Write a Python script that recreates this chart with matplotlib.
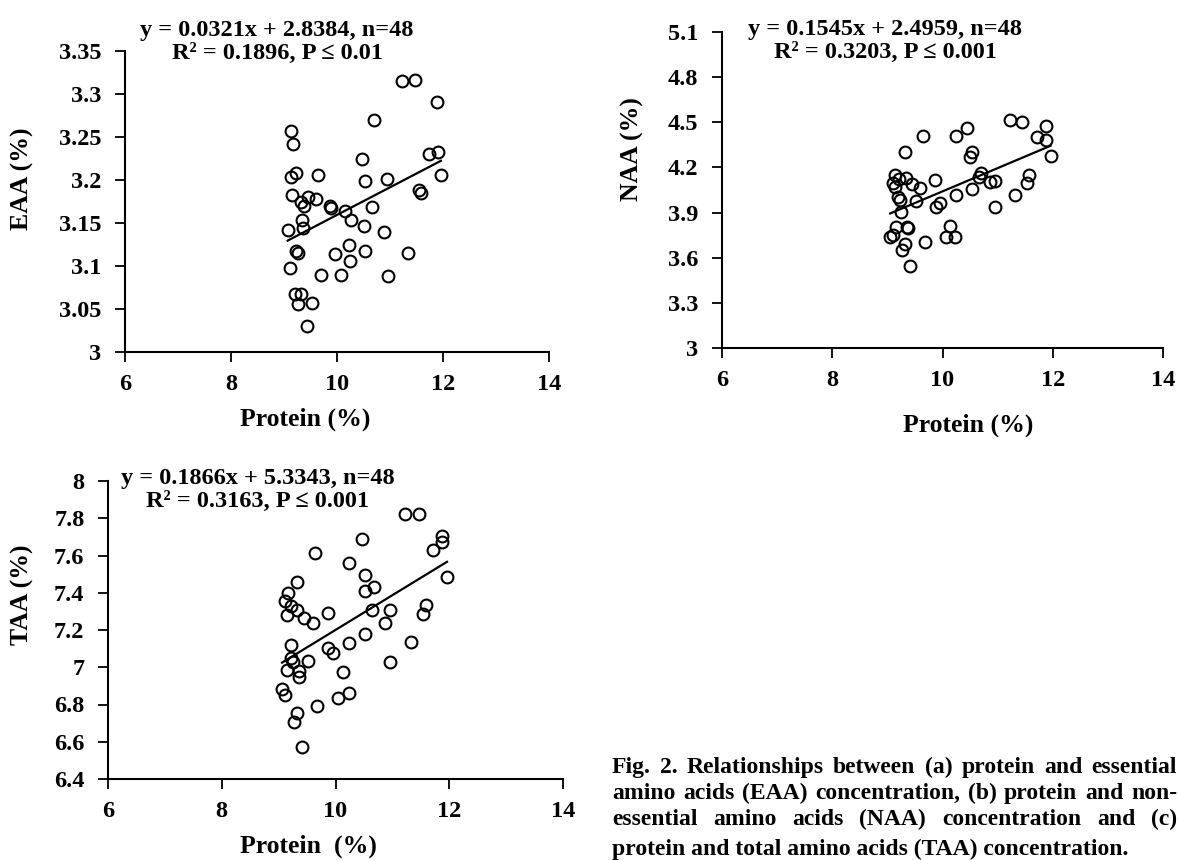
import matplotlib
matplotlib.use('Agg')
import matplotlib.pyplot as plt
import numpy as np

plt.rcParams['font.family'] = ['Liberation Serif', 'DejaVu Serif']
plt.rcParams['font.weight'] = 'bold'
plt.rcParams['axes.labelweight'] = 'bold'

# (a) protein vs essential amino acids
eaa_protein = [11.23, 11.47, 11.89, 10.70, 9.13, 9.17, 10.47, 11.73, 11.90, 9.22,
               9.14, 9.65, 10.53, 10.95, 11.96, 9.16, 9.46, 9.60, 9.32, 9.37,
               9.87, 9.88, 10.15, 10.66, 11.55, 11.58, 9.34, 10.26, 9.07, 9.36,
               10.51, 10.88, 9.22, 9.27, 10.23, 9.96, 10.53, 11.34, 10.25, 9.12,
               9.69, 10.07, 10.97, 9.20, 9.32, 9.27, 9.53, 9.43]
eaa_values = [3.315, 3.316, 3.291, 3.270, 3.257, 3.242, 3.224, 3.230, 3.232, 3.208,
              3.203, 3.206, 3.199, 3.201, 3.206, 3.183, 3.180, 3.178, 3.175, 3.170,
              3.170, 3.168, 3.164, 3.169, 3.188, 3.185, 3.154, 3.154, 3.142, 3.144,
              3.146, 3.140, 3.117, 3.115, 3.124, 3.114, 3.118, 3.115, 3.106, 3.098,
              3.090, 3.090, 3.088, 3.067, 3.068, 3.056, 3.057, 3.030]

# (b) protein vs non-essential amino acids
naa_protein = [11.22, 11.45, 11.88, 11.72, 11.88, 11.96, 9.65, 10.24, 10.45, 9.32,
               10.53, 10.50, 10.69, 10.66, 11.57, 11.54, 10.87, 10.95, 9.14, 9.21,
               9.33, 9.10, 9.14, 9.45, 9.60, 9.86, 10.24, 10.53, 11.32, 9.20,
               9.22, 9.52, 9.95, 9.88, 9.25, 10.95, 9.16, 9.36, 10.14, 9.10,
               9.05, 10.06, 10.23, 9.32, 9.27, 9.68, 9.41, 9.37]
naa_values = [4.512, 4.503, 4.474, 4.401, 4.379, 4.279, 4.410, 4.407, 4.463, 4.303,
              4.301, 4.267, 4.165, 4.139, 4.152, 4.094, 4.101, 4.108, 4.152, 4.125,
              4.130, 4.099, 4.068, 4.088, 4.061, 4.119, 4.017, 4.059, 4.017, 4.001,
              3.983, 3.977, 3.963, 3.937, 3.903, 3.939, 3.801, 3.804, 3.810, 3.753,
              3.737, 3.739, 3.739, 3.690, 3.650, 3.704, 3.542, 3.799]

# (c) protein vs total amino acids
taa_protein = [11.22, 11.46, 11.87, 11.87, 11.71, 10.46, 9.64, 10.24, 10.52, 10.68,
               10.51, 11.96, 9.33, 9.16, 9.11, 9.21, 9.33, 9.14, 9.45, 9.60,
               9.86, 10.65, 10.95, 11.59, 11.54, 10.87, 10.52, 10.24, 11.32, 9.22,
               9.86, 9.96, 9.22, 9.26, 9.52, 10.96, 9.15, 9.36, 9.35, 10.14,
               9.06, 9.12, 10.23, 10.04, 9.68, 9.32, 9.27, 9.41]
taa_values = [7.825, 7.825, 7.707, 7.671, 7.630, 7.687, 7.616, 7.562, 7.496, 7.433,
              7.412, 7.485, 7.458, 7.396, 7.356, 7.331, 7.305, 7.278, 7.267, 7.240,
              7.290, 7.308, 7.308, 7.335, 7.285, 7.237, 7.179, 7.128, 7.135, 7.119,
              7.103, 7.079, 7.051, 7.026, 7.033, 7.029, 6.985, 6.979, 6.949, 6.972,
              6.883, 6.850, 6.863, 6.834, 6.793, 6.756, 6.707, 6.573]

eaa_fit = (0.0321, 2.8384)
naa_fit = (0.1545, 2.4959)
taa_fit = (0.1866, 5.3343)

eaa_eq = 'y = 0.0321x + 2.8384, n=48\nR² = 0.1896, P ≤ 0.01'
naa_eq = 'y = 0.1545x + 2.4959, n=48\nR² = 0.3203, P ≤ 0.001'
taa_eq = 'y = 0.1866x + 5.3343, n=48\nR² = 0.3163, P ≤ 0.001'

x_ticks = [6, 8, 10, 12, 14]
eaa_ticks = [3, 3.05, 3.1, 3.15, 3.2, 3.25, 3.3, 3.35]
eaa_tick_labels = ['3', '3.05', '3.1', '3.15', '3.2', '3.25', '3.3', '3.35']
naa_ticks = [3, 3.3, 3.6, 3.9, 4.2, 4.5, 4.8, 5.1]
naa_tick_labels = ['3', '3.3', '3.6', '3.9', '4.2', '4.5', '4.8', '5.1']
taa_ticks = [6.4, 6.6, 6.8, 7.0, 7.2, 7.4, 7.6, 7.8, 8.0]
taa_tick_labels = ['6.4', '6.6', '6.8', '7', '7.2', '7.4', '7.6', '7.8', '8']

caption_lines = [
    'Fig. 2. Relationships between (a) protein and essential',
    'amino acids (EAA) concentration, (b) protein and non-',
    'essential amino acids (NAA) concentration and (c)',
    'protein and total amino acids (TAA) concentration.',
]

W, H = 1179, 860
fig = plt.figure(figsize=(W / 100, H / 100), dpi=100)


def panel(rect, xs, ys, fit, ticks, tick_labels, ylabel, xlabel,
          ylabel_pos, xlabel_pos, eq, eq_pos):
    l, r, t, b = rect
    ax = fig.add_axes([l / W, 1 - b / H, (r - l) / W, (b - t) / H])
    ax.plot(xs, ys, 'o', mfc='none', mec='black', ms=8.5, mew=1.5, clip_on=False)
    xx = np.array([min(xs), max(xs)])
    ax.plot(xx, fit[0] * xx + fit[1], color='black', lw=1.6)
    ax.set_xlim(6, 14)
    ax.set_ylim(ticks[0], ticks[-1])
    ax.set_xticks(x_ticks)
    ax.set_yticks(ticks)
    ax.set_yticklabels(tick_labels)
    for s in ['top', 'right']:
        ax.spines[s].set_visible(False)
    for s in ['left', 'bottom']:
        ax.spines[s].set_linewidth(1.5)
    ax.tick_params(direction='out', length=7, width=1.3, labelsize=17.5)
    ax.tick_params(axis='x', pad=9)
    ax.tick_params(axis='y', pad=10)
    ax.set_ylabel(ylabel, fontsize=18.5)
    ax.yaxis.set_label_coords(*ylabel_pos)
    ax.set_xlabel(xlabel, fontsize=18.5)
    ax.xaxis.set_label_coords(*xlabel_pos)
    fig.text(eq_pos[0] / W, 1 - eq_pos[1] / H, eq, ha='center', va='center',
             fontsize=17.5, linespacing=1.12)
    return ax


panel((125, 549, 51, 352), eaa_protein, eaa_values, eaa_fit, eaa_ticks,
      eaa_tick_labels, 'EAA (%)', 'Protein (%)', (-0.215, 0.577), (0.425, -0.186),
      eaa_eq, (277, 42))
panel((722, 1163, 32, 348), naa_protein, naa_values, naa_fit, naa_ticks,
      naa_tick_labels, 'NAA (%)', 'Protein (%)', (-0.177, 0.63), (0.558, -0.206),
      naa_eq, (885, 41))
panel((108, 563, 481, 779), taa_protein, taa_values, taa_fit, taa_ticks,
      taa_tick_labels, 'TAA (%)', 'Protein  (%)', (-0.163, 0.618), (0.44, -0.188),
      taa_eq, (258, 490))

# caption, justified except the last line
renderer = fig.canvas.get_renderer()
cap_left, cap_right = 612, 1177
baselines = [773, 799, 825, 855]
for i, line in enumerate(caption_lines):
    y = 1 - baselines[i] / H
    if i == len(caption_lines) - 1:
        fig.text(cap_left / W, y, line, fontsize=17, va='baseline')
        continue
    words = line.split(' ')
    arts = [fig.text(0, y, w, fontsize=17, va='baseline') for w in words]
    widths = [a.get_window_extent(renderer).width for a in arts]
    gap = (cap_right - cap_left - sum(widths)) / (len(words) - 1)
    x = cap_left
    for a, w in zip(arts, widths):
        a.set_x(x / W)
        x += w + gap

fig.savefig('out.png', dpi=100)
